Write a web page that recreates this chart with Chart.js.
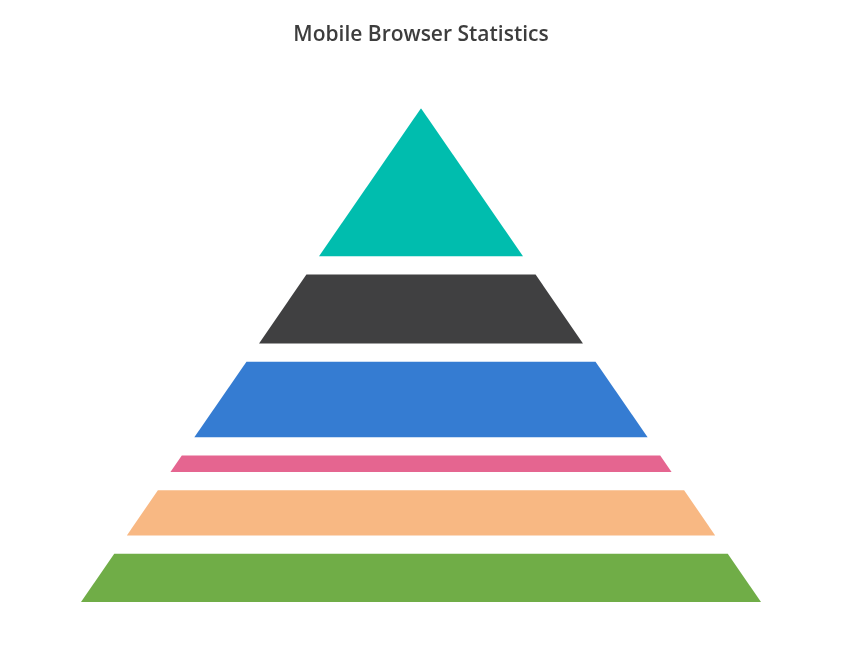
<!DOCTYPE html>
<html>
<head>
<meta charset="utf-8">
<script src="https://cdn.jsdelivr.net/npm/chart.js@4"></script>
<style>
html,body{margin:0;padding:0;background:#fff;}
#wrap{width:848px;height:671px;}
</style>
</head>
<body>
<div id="wrap"><canvas id="c" width="848" height="671"></canvas></div>
<script>
// Data (top of pyramid first)
const categories = ["Chrome", "UC Browser", "Safari", "Others", "Opera", "Android"];
const values = [36.8, 17.1, 18.8, 4.1, 11.2, 12.0];
const colors = ["#00bdae", "#404041", "#357cd2", "#e56590", "#f8b883", "#70ad47"];
const gapRatio = 0.0453; // gap between segments as a share of the value total

const sum = values.reduce((a, b) => a + b, 0);
const gap = gapRatio * sum;
const total = sum + gap * (values.length - 1);

function halfWidth(y) { return (total - y) / total; }

let cum = 0;
const datasets = values.map((v, i) => {
  const yTop = total - cum;
  const yBot = yTop - v;
  cum += v + gap;
  const pts = [
    {x: -halfWidth(yTop), y: yTop},
    {x: halfWidth(yTop), y: yTop},
    {x: halfWidth(yBot), y: yBot},
    {x: -halfWidth(yBot), y: yBot},
    {x: -halfWidth(yTop), y: yTop}
  ];
  return {
    type: 'line',
    label: categories[i],
    data: pts,
    backgroundColor: colors[i],
    borderColor: colors[i],
    borderWidth: 0,
    pointRadius: 0,
    pointHoverRadius: 0,
    tension: 0,
    fill: 'shape'
  };
});

new Chart(document.getElementById('c'), {
  type: 'scatter',
  data: { datasets },
  options: {
    responsive: false,
    animation: false,
    layout: { padding: { left: 81, right: 87, top: 0, bottom: 69 } },
    scales: {
      x: { type: 'linear', min: -1, max: 1, display: false },
      y: { type: 'linear', min: 0, max: total, display: false }
    },
    plugins: {
      legend: { display: false },
      tooltip: { enabled: false },
      title: {
        display: true,
        text: 'Mobile Browser Statistics',
        color: '#3d3d3d',
        font: { family: "'Open Sans', 'Noto Sans', sans-serif", size: 21, weight: 600, lineHeight: 1.2 },
        padding: { top: 22, bottom: 61 }
      }
    }
  }
});
</script>
</body>
</html>
